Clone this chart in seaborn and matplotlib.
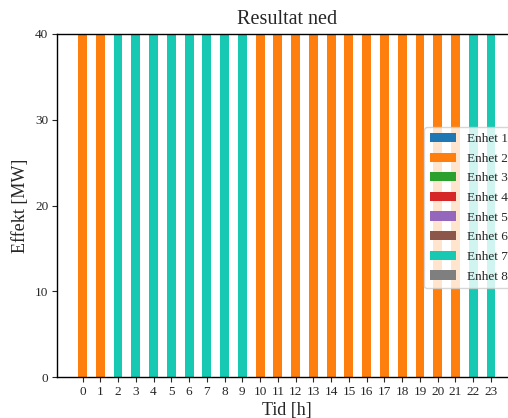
import numpy as np
import pandas as pd
import matplotlib
matplotlib.use("Agg")
import matplotlib.pyplot as plt
from matplotlib.patches import Patch
import seaborn as sns

hours = list(range(24))
units = ["Enhet 1", "Enhet 2", "Enhet 3", "Enhet 4",
         "Enhet 5", "Enhet 6", "Enhet 7", "Enhet 8"]
unit_colors = ["#1f77b4", "#ff7f0e", "#2ca02c", "#d62728",
               "#9467bd", "#8c564b", "#17c9b2", "#7f7f7f"]

enhet1 = [0] * 24
enhet2 = [40, 40, 0, 0, 0, 0, 0, 0, 0, 0, 40, 40,
          40, 40, 40, 40, 40, 40, 40, 40, 40, 40, 0, 0]
enhet3 = [0] * 24
enhet4 = [0] * 24
enhet5 = [0] * 24
enhet6 = [0] * 24
enhet7 = [0, 0, 40, 40, 40, 40, 40, 40, 40, 40, 0, 0,
          0, 0, 0, 0, 0, 0, 0, 0, 0, 0, 40, 40]
enhet8 = [0] * 24

values = [enhet1, enhet2, enhet3, enhet4, enhet5, enhet6, enhet7, enhet8]

sns.set_style("ticks")
plt.rcParams["font.family"] = ["Liberation Serif", "DejaVu Serif"]
plt.rcParams["xtick.labelsize"] = 9.5
plt.rcParams["ytick.labelsize"] = 9.5

W, H = 508, 418
fig = plt.figure(figsize=(W / 100, H / 100), dpi=100)

# axes laid out in pixels; the right part runs past the figure edge
unit_px = 17.76
xmin, xmax = -1.42, 24.42
left_px, bottom_px, top_px = 57.3, 377.3, 34.0
ax = fig.add_axes([left_px / W, (H - bottom_px) / H,
                   (xmax - xmin) * unit_px / W, (bottom_px - top_px) / H])

# stacked bars: draw cumulative totals from the top unit down
cum = np.cumsum(np.array(values, dtype=float), axis=0)
for i in range(len(units) - 1, -1, -1):
    df = pd.DataFrame({"Tid": hours, "Effekt": cum[i]})
    sns.barplot(data=df, x="Tid", y="Effekt", color=unit_colors[i],
                saturation=1, width=0.5, native_scale=True, ax=ax,
                edgecolor="none", linewidth=0)

ax.set_xlim(xmin, xmax)
ax.set_ylim(0, 40)
ax.set_xticks(hours)
ax.set_xticklabels([str(h) for h in hours])
ax.set_yticks([0, 10, 20, 30, 40])
for s in ["top", "right", "left", "bottom"]:
    ax.spines[s].set_visible(True)
    ax.spines[s].set_color("black")
    ax.spines[s].set_linewidth(1.0)
ax.tick_params(direction="out", length=3.5, width=0.8, pad=3)

ax.set_title("Resultat ned", fontsize=14.5, pad=7)
ax.set_xlabel("Tid [h]", fontsize=13, labelpad=2.5)
ax.set_ylabel("Effekt [MW]", fontsize=13)

handles = [Patch(facecolor=c, edgecolor="none", label=u)
           for u, c in zip(units, unit_colors)]
fig.legend(handles=handles, loc="upper left",
           bbox_to_anchor=(424 / W, 1 - 127 / H), fontsize=9.5,
           frameon=True, framealpha=0.8, edgecolor="#cccccc",
           fancybox=True, labelspacing=0.56, handlelength=2.0,
           handletextpad=0.8, borderpad=0.45, borderaxespad=0)

fig.savefig("out.png", dpi=100)
